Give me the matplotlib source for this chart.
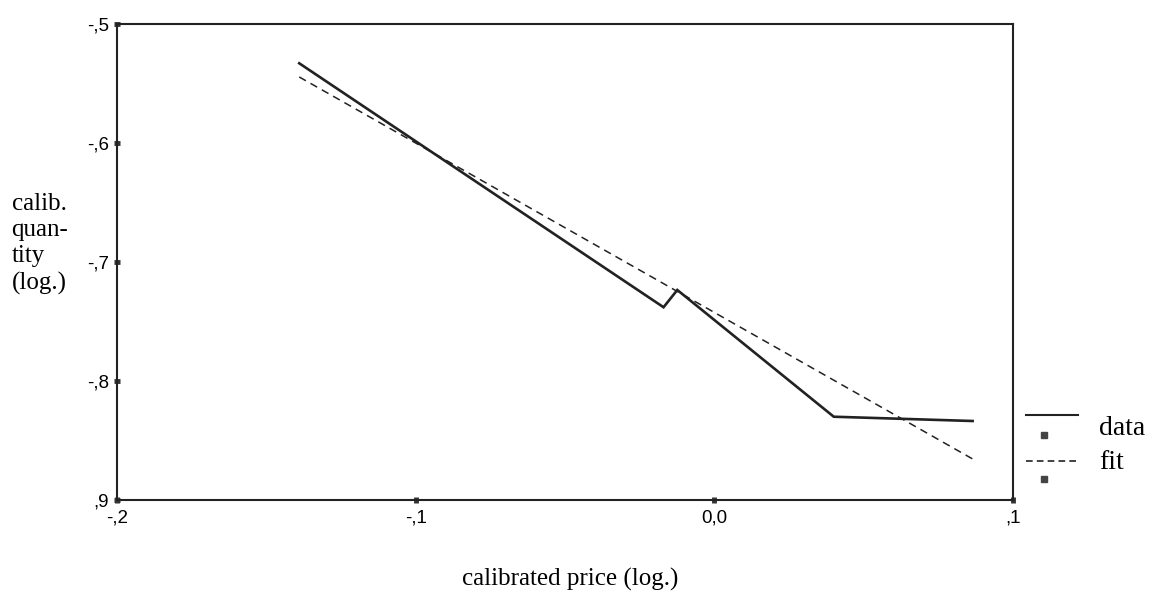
import matplotlib.pyplot as plt
from matplotlib.lines import Line2D

# data
price = [-0.139, -0.017, -0.0124, 0.040, 0.0865]
quantity = [-0.533, -0.738, -0.7235, -0.830, -0.8336]
fit_x = [-0.139, 0.0865]
fit_y = [-0.5445, -0.8655]

xticks = [-0.2, -0.1, 0.0, 0.1]
xticklabels = ['-,2', '-,1', '0,0', ',1']
yticks = [-0.5, -0.6, -0.7, -0.8, -0.9]
yticklabels = ['-,5', '-,6', '-,7', '-,8', ',9']

fig = plt.figure(figsize=(11.52, 5.94), dpi=100)
ax = fig.add_axes([0.1016, 0.1582, 0.7777, 0.8014])

ax.plot(price, quantity, color='#222222', lw=1.9, solid_joinstyle='miter')
ax.plot(fit_x, fit_y, color='#222222', lw=1.1, ls=(0, (5, 3.5)))

ax.set_xlim(-0.2, 0.1)
ax.set_ylim(-0.9, -0.5)
ax.set_xticks(xticks)
ax.set_xticklabels(xticklabels, fontfamily='Liberation Sans', fontsize=13.5)
ax.set_yticks(yticks)
ax.set_yticklabels(yticklabels, fontfamily='Liberation Sans', fontsize=13.5)
ax.tick_params(direction='inout', length=4, width=3.5, color='#333333')
ax.tick_params(axis='x', pad=5)
ax.tick_params(axis='y', pad=4)
for s in ax.spines.values():
    s.set_linewidth(1.5)
    s.set_color('#222222')

serif = 'Liberation Serif'
fig.text(0.010, 0.59, 'calib.\nquan-\ntity\n(log.)', ha='left', va='center',
         fontfamily=serif, fontsize=18, linespacing=1.25)
fig.text(0.495, 0.024, 'calibrated price (log.)', ha='center', va='center',
         fontfamily=serif, fontsize=18)

# legend drawn by hand, as in the original
fig.add_artist(Line2D([0.891, 0.936], [0.301, 0.301], color='#222222', lw=1.5))
fig.add_artist(Line2D([0.906], [0.268], marker='s', ms=4, color='#444444', lw=0))
fig.text(0.954, 0.278, 'data', fontfamily=serif, fontsize=20, va='center')
fig.add_artist(Line2D([0.891, 0.936], [0.224, 0.224], color='#222222', lw=1.2,
                      ls=(0, (4, 2.5))))
fig.add_artist(Line2D([0.906], [0.194], marker='s', ms=4, color='#444444', lw=0))
fig.text(0.954, 0.222, 'fit', fontfamily=serif, fontsize=20, va='center')

fig.savefig('out.png', dpi=100)
